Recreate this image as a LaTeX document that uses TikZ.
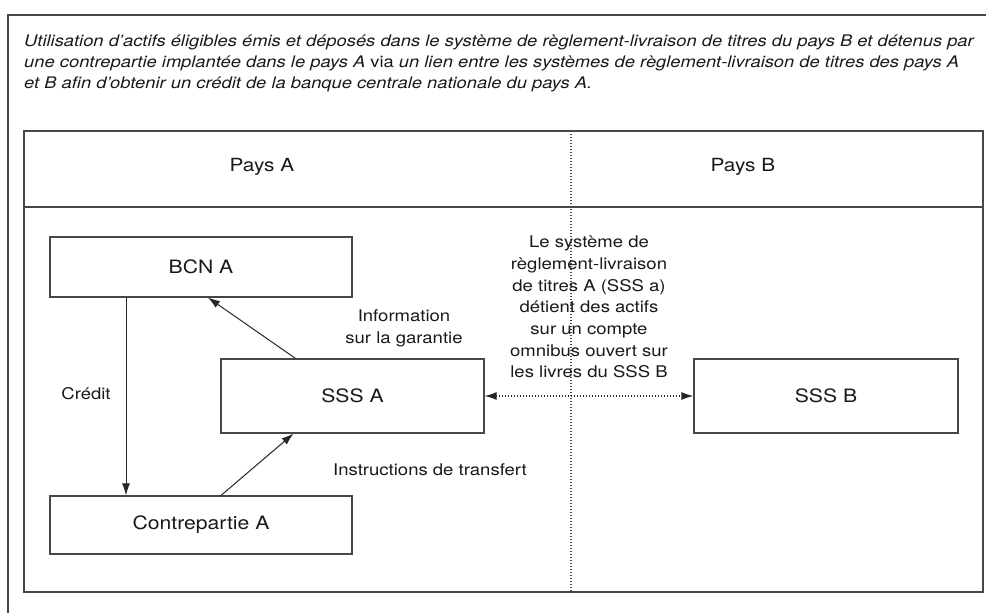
\documentclass[tikz,border=0pt]{standalone}
\usepackage{fontspec}
\setmainfont{TeX Gyre Heros}[FakeStretch=1.15]
\usetikzlibrary{arrows.meta}
\begin{document}
\begin{tikzpicture}[x=1pt,y=-1pt,
    frame/.style={draw=black!72,line width=1.1pt},
    box/.style={frame,inner sep=0pt,text=black!90,font=\fontsize{18.4}{22}\selectfont},
    hdr/.style={text=black!90,font=\fontsize{18.1}{22}\selectfont},
    lbl/.style={text=black!90,inner sep=0pt,font=\fontsize{16.1}{21.7}\selectfont},
    arr/.style={draw=black!85,line width=1pt,-{Latex[length=12pt,width=8pt]}},
    dots/.style={line width=1.2pt,dash pattern=on 1.2pt off 1.8pt}]
    \useasboundingbox (0,0) rectangle (986,613);
    % outer frame and title
    \draw[frame] (8,625) -- (8,15) -- (995,15);
    \node[anchor=west,align=left,inner sep=0pt,text=black!90,font=\fontsize{15.95}{21}\selectfont\itshape] (title) at (24,63)
        {Utilisation d'actifs éligibles émis et déposés dans le système de règlement-livraison de titres du pays B et détenus par\\
        une contrepartie implantée dans le pays A {\upshape via} un lien entre les systèmes de règlement-livraison de titres des pays A\\
        et B afin d'obtenir un crédit de la banque centrale nationale du pays A.};
    % inner frame
    \draw[frame] (24,131) rectangle (983,592);
    \draw[frame] (24,207) -- (983,207);
    \draw[frame,dots] (571,131) -- (571,592);
    \node[hdr] (paysa) at (262,167) {Pays A};
    \node[hdr] (paysb) at (743,167) {Pays B};
    % boxes
    \node[box,minimum width=302pt,minimum height=60pt] (bcn) at (201,267) {BCN A};
    \node[box,minimum width=263pt,minimum height=74pt] (sssa) at (352.5,396) {SSS A};
    \node[box,minimum width=264pt,minimum height=74pt] (sssb) at (826,396) {SSS B};
    \node[box,minimum width=302pt,minimum height=58pt] (cpa) at (201,525) {Contrepartie A};
    % labels
    \node[lbl] (credit) at (86,394) {Crédit};
    \node[lbl,align=center] (info) at (404,328.5) {Information\\sur la garantie};
    \node[lbl] (instr) at (430,470) {Instructions de transfert};
    \node[lbl,align=center] (omni) at (589,307) {Le système de\\règlement-livraison\\de titres A (SSS a)\\détient des actifs\\sur un compte\\omnibus ouvert sur\\les livres du SSS B};
    % arrows
    \draw[arr] ([xshift=-75pt]bcn.south) -- ([xshift=-75pt]cpa.north);
    \draw[arr] ([xshift=-57pt]sssa.north) -- ([xshift=7pt]bcn.south);
    \draw[arr] ([xshift=20pt]cpa.north) -- ([xshift=-59pt]sssa.south);
    \draw[arr,dots,{Latex[length=12pt,width=8pt]}-{Latex[length=12pt,width=8pt]}] (sssa.east) -- (sssb.west);
\end{tikzpicture}
\end{document}
